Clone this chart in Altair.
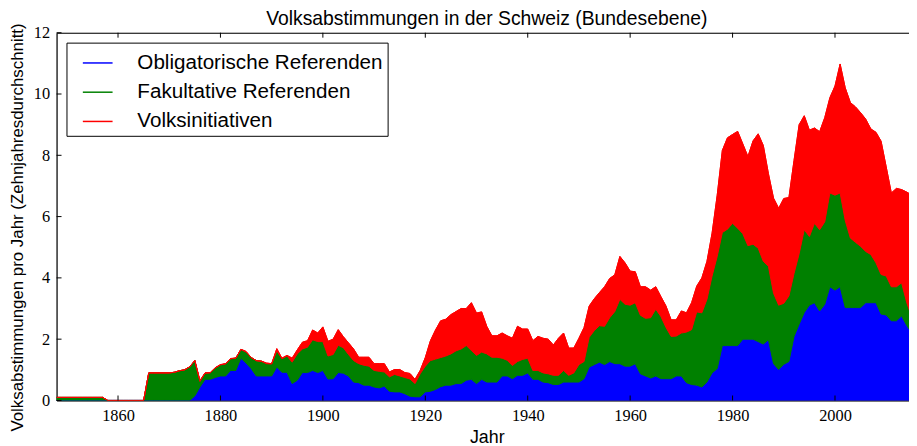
import altair as alt
import pandas as pd

# ---- data (ten-year averages) ----
years = list(range(1848, 2016))

obligatorische = (
    [0.0] * 10 + [0.0] * 8 + [0.0] * 5 +
    [0.0, 0.0, 0.0, 0.0,                      # 1871-1874
     0.15, 0.44, 0.69, 0.69, 0.75, 0.80,      # 1875-1880
     0.80, 0.98, 0.98, 1.38, 1.22, 1.04, 0.80, 0.80, 0.80, 0.80,   # 1881-1890
     1.09, 0.92, 0.92, 0.55, 0.66, 0.91, 0.91, 0.98, 0.91, 0.98,   # 1891-1900
     0.70, 0.71, 0.91, 0.89, 0.80, 0.60, 0.58, 0.50, 0.50, 0.44,   # 1901-1910
     0.41, 0.47, 0.30, 0.28, 0.28, 0.22, 0.14, 0.12, 0.12, 0.28,   # 1911-1920
     0.30, 0.36, 0.45, 0.50, 0.50, 0.55, 0.55, 0.66, 0.69, 0.55,   # 1921-1930
     0.69, 0.60, 0.60, 0.60, 0.80, 0.80, 0.71, 0.82, 0.82, 0.90,   # 1931-1940
     0.69, 0.69, 0.60, 0.58, 0.52, 0.52, 0.60, 0.60, 0.60, 0.60,   # 1941-1950
     0.71, 1.09, 1.17, 1.25, 1.17, 1.27, 1.20, 1.20, 1.12, 1.12,   # 1951-1960
     1.20, 0.87, 0.80, 0.73, 0.80, 0.71, 0.71, 0.71, 0.80, 0.80,   # 1961-1970
     0.58, 0.52, 0.50, 0.44, 0.60, 0.90, 1.04, 1.79, 1.79, 1.79,   # 1971-1980
     1.79, 2.00, 2.00, 2.00, 1.92, 1.84, 1.98, 1.20, 1.01, 1.18,   # 1981-1990
     1.27, 2.09, 2.49, 2.87, 3.11, 3.19, 2.92, 3.14, 3.71, 3.60,   # 1991-2000
     3.71, 3.03, 3.03, 3.03, 3.03, 3.19, 3.19, 3.19, 2.82, 2.79,   # 2001-2010
     2.60, 2.60, 2.76, 2.45, 2.20]                                 # 2011-2015
)

fakultative = (
    [0.1] * 10 + [0.0] * 8 + [0.9] * 5 +
    [0.92, 0.97, 1.00, 1.10,                  # 1871-1874
     1.15, 0.18, 0.20, 0.21, 0.31, 0.36,      # 1875-1880
     0.39, 0.38, 0.40, 0.28, 0.36, 0.36, 0.50, 0.48, 0.40, 0.39,   # 1881-1890
     0.53, 0.44, 0.53, 0.70, 0.86, 0.77, 0.83, 1.00, 1.01, 0.94,   # 1891-1900
     0.75, 0.79, 0.89, 0.83, 0.70, 0.70, 0.62, 0.65, 0.62, 0.54,   # 1901-1910
     0.54, 0.46, 0.47, 0.57, 0.52, 0.53, 0.56, 0.43, 0.75, 0.84,   # 1911-1920
     1.00, 0.99, 0.95, 0.95, 1.02, 1.07, 1.13, 1.13, 0.94, 0.92,   # 1921-1930
     0.89, 0.92, 0.81, 0.81, 0.58, 0.51, 0.43, 0.45, 0.52, 0.48,   # 1931-1940
     0.29, 0.29, 0.30, 0.29, 0.30, 0.30, 0.38, 0.22, 0.30, 0.57,   # 1941-1950
     0.56, 0.97, 1.11, 1.19, 1.25, 1.43, 1.70, 2.10, 2.02, 1.99,   # 1951-1960
     1.99, 1.91, 1.88, 1.97, 2.18, 2.03, 1.67, 1.38, 1.30, 1.40,   # 1961-1970
     1.65, 1.79, 2.39, 2.42, 2.70, 3.16, 3.66, 3.69, 3.80, 3.99,   # 1971-1980
     3.83, 3.44, 3.05, 3.10, 3.05, 2.70, 2.40, 2.30, 2.10, 1.99,   # 1981-1990
     2.14, 2.05, 2.30, 2.70, 2.24, 2.59, 2.65, 2.69, 3.06, 3.10,   # 1991-2000
     3.06, 2.84, 2.27, 2.13, 2.00, 1.67, 1.57, 1.30, 1.29, 1.27,   # 2001-2010
     1.11, 1.11, 1.08, 0.75, 0.50]                                 # 2011-2015
)

volksinitiativen = (
    [0.0] * 10 + [0.0] * 8 + [0.0] * 5 +
    [0.0, 0.0, 0.0, 0.0,                      # 1871-1874
     0.0, 0.03, 0.01, 0.01, 0.01, 0.01,       # 1875-1880
     0.01, 0.01, 0.0, 0.01, 0.02, 0.0, 0.0, 0.0, 0.02, 0.01,       # 1881-1890
     0.07, 0.02, 0.02, 0.13, 0.13, 0.22, 0.21, 0.32, 0.28, 0.48,   # 1891-1900
     0.48, 0.50, 0.51, 0.36, 0.38, 0.38, 0.21, 0.26, 0.29, 0.22,   # 1901-1910
     0.25, 0.27, 0.16, 0.16, 0.21, 0.16, 0.18, 0.14, 0.11, 0.28,   # 1911-1920
     0.65, 0.95, 1.20, 1.20, 1.28, 1.28, 1.32, 1.21, 1.56, 1.38,   # 1921-1930
     1.31, 0.90, 0.70, 0.70, 0.82, 0.80, 0.89, 1.15, 0.99, 0.95,   # 1931-1940
     0.97, 1.11, 1.13, 1.13, 0.99, 1.21, 1.22, 0.89, 0.81, 0.86,   # 1941-1950
     1.11, 1.02, 1.04, 1.08, 1.29, 1.28, 1.20, 1.40, 1.35, 1.11,   # 1951-1960
     1.01, 0.93, 1.03, 0.90, 0.73, 0.65, 0.70, 0.54, 0.53, 0.72,   # 1961-1970
     0.63, 0.88, 0.84, 1.14, 1.24, 1.40, 2.00, 2.68, 2.98, 2.90,   # 1971-1980
     3.16, 2.93, 2.91, 3.37, 3.73, 3.78, 3.02, 3.10, 3.16, 3.42,   # 1981-1990
     3.21, 3.69, 4.21, 3.72, 3.47, 3.11, 3.20, 3.40, 3.11, 3.56,   # 1991-2000
     4.21, 4.33, 4.42, 4.42, 4.36, 4.32, 4.10, 4.26, 4.35, 3.56,   # 2001-2010
     3.06, 3.21, 3.04, 3.60, 4.00]                                 # 2011-2015
)

series_names = ["Obligatorische Referenden", "Fakultative Referenden", "Volksinitiativen"]
series_colors = ["#0000ff", "#008000", "#ff0000"]
x_ticks = [1860, 1880, 1900, 1920, 1940, 1960, 1980, 2000]
y_ticks = [0, 2, 4, 6, 8, 10, 12]

df = pd.DataFrame({"Jahr": years, "obl": obligatorische,
                   "fak": fakultative, "ini": volksinitiativen})

W, H = 860, 371
SANS = "Liberation Sans"
SERIF = "Liberation Serif"

xscale = alt.Scale(domain=[1848, 2014.45], nice=False, zero=False)
yscale = alt.Scale(domain=[0, 12], nice=False, zero=False)
color_scale = alt.Scale(domain=series_names, range=series_colors)
legend = alt.Legend(
    orient="top-left", offset=10, padding=4.5, title=None,
    strokeColor="black", fillColor="white", cornerRadius=0,
    symbolType="stroke", symbolSize=900, symbolStrokeWidth=1.5,
    symbolOffset=11, labelOffset=24, rowPadding=3.5, labelLimit=500,
    labelFont=SANS, labelFontSize=20.8, labelColor="black",
)

base = alt.Chart(df).transform_calculate(
    t0="0",
    t1="datum.obl",
    t2="datum.obl + datum.fak",
    t3="datum.obl + datum.fak + datum.ini",
)

X = alt.X("Jahr:Q", scale=xscale, axis=None)


def area(lo, hi, col):
    return base.mark_area(color=col, stroke=col, strokeWidth=1, clip=True).encode(
        x=X, y=alt.Y(f"{hi}:Q", scale=yscale, axis=None), y2=alt.Y2(f"{lo}:Q"))


def edge(hi, name):
    return base.transform_calculate(Serie=f"'{name}'").mark_line(
        strokeWidth=1, clip=True).encode(
        x=X, y=alt.Y(f"{hi}:Q", scale=yscale, axis=None),
        color=alt.Color("Serie:N", scale=color_scale, legend=legend))


xt = pd.DataFrame({"t": x_ticks})
yt = pd.DataFrame({"v": y_ticks})

bottom_ticks = alt.Chart(xt).mark_rule(color="black", strokeWidth=1).encode(
    x=alt.X("t:Q", scale=xscale, axis=alt.Axis(
        values=x_ticks, format="d", ticks=False, labelPadding=7, grid=False,
        labelFlush=False, labelOverlap=False,
        labelFont=SERIF, labelFontSize=16.5, labelColor="black",
        domainColor="black", domainWidth=1.2,
        title="Jahr", titleFont=SANS, titleFontSize=18, titleFontWeight="normal",
        titleColor="black", titleX=434, titleY=42, titleAlign="center",
        titleBaseline="alphabetic")),
    y=alt.value(H), y2=alt.value(H - 5))

top_ticks = alt.Chart(xt).mark_rule(color="black", strokeWidth=1).encode(
    x=alt.X("t:Q", scale=xscale, axis=alt.Axis(
        orient="top", labels=False, ticks=False, grid=False, title=None,
        domainColor="black", domainWidth=1.2)),
    y=alt.value(0), y2=alt.value(5))

left_ticks = alt.Chart(yt).mark_rule(color="black", strokeWidth=1).encode(
    y=alt.Y("v:Q", scale=yscale, axis=alt.Axis(
        orient="left", values=y_ticks, ticks=False, labelPadding=7, grid=False,
        labelFlush=False, labelOverlap=False,
        labelFont=SERIF, labelFontSize=16.5, labelColor="black",
        domainColor="black", domainWidth=1.2,
        title="Volksabstimmungen pro Jahr (Zehnjahresdurchschnitt)",
        titleFont=SANS, titleFontSize=17, titleFontWeight="normal",
        titleColor="black", titleX=-39, titleY=196, titleAngle=270,
        titleAlign="center", titleBaseline="middle")),
    x=alt.value(0), x2=alt.value(5))

chart = alt.layer(
    area("t0", "t1", series_colors[0]), edge("t1", series_names[0]),
    area("t1", "t2", series_colors[1]), edge("t2", series_names[1]),
    area("t2", "t3", series_colors[2]), edge("t3", series_names[2]),
    bottom_ticks, top_ticks, left_ticks,
).resolve_axis(x="independent", y="independent").properties(
    width=W, height=H,
    title=alt.TitleParams("Volksabstimmungen in der Schweiz (Bundesebene)",
                          font=SANS, fontSize=19.5, fontWeight="normal",
                          color="black", offset=3, dx=4, dy=10),
    autosize=alt.AutoSizeParams(type="none"),
    padding={"left": 49, "top": 23, "right": 0, "bottom": 44},
).configure_view(stroke=None).configure(background="white")

chart.save("out.html", embed_options={"renderer": "svg", "actions": False})
